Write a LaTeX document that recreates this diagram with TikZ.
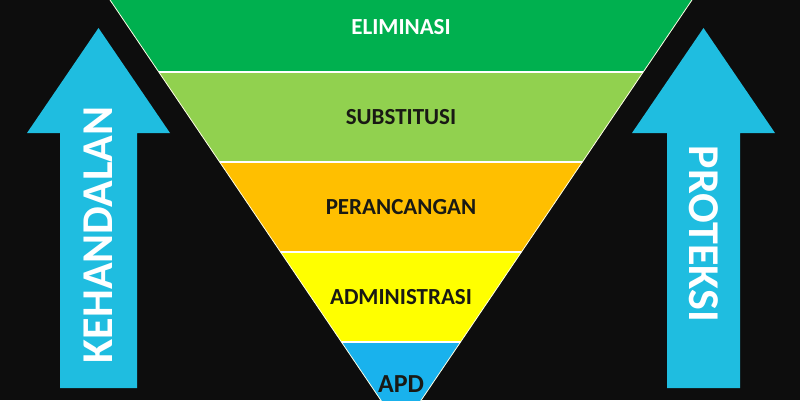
\documentclass[tikz,border=0pt]{standalone}
\usepackage{fontspec}
\setmainfont{Carlito}
\usepackage{tikz}
\definecolor{bgblack}{rgb}{0.05,0.05,0.05}
\definecolor{elimgreen}{rgb}{0,0.69,0.31}
\definecolor{subsgreen}{rgb}{0.57,0.82,0.31}
\definecolor{peranorange}{rgb}{1,0.75,0}
\definecolor{adminyellow}{rgb}{1,1,0}
\definecolor{apdblue}{rgb}{0.1,0.7,0.93}
\definecolor{arrowcyan}{rgb}{0.12,0.74,0.88}
\definecolor{labeldark}{rgb}{0.1,0.1,0.08}

\begin{document}
\begin{tikzpicture}[line cap=round,line join=round,x=1pt,y=1pt,
	band label/.style={font=\fontsize{23}{23}\selectfont\bfseries,text=labeldark,inner sep=0pt},
	arrow label/.style={font=\fontsize{44}{44}\selectfont\bfseries,text=white,inner sep=0pt},
	big arrow/.style={fill=arrowcyan}]
	\useasboundingbox (0,0) rectangle (800,400);
	\fill[bgblack] (0,0) rectangle (800,400);

	% inverted triangle
	\coordinate (tl) at (97.85,418);
	\coordinate (tr) at (704.15,418);
	\coordinate (apex) at (401,-30);
	\begin{scope}
		\clip (tl) -- (tr) -- (apex) -- cycle;
		\foreach \col/\ya/\yb in {elimgreen/328/420,subsgreen/238/328,peranorange/148/238,adminyellow/58/148,apdblue/-40/58}
			\fill[\col] (0,\ya) rectangle (800,\yb);
		\foreach \yb in {328,238,148,58}
			\draw[white,line width=1.2pt] (0,\yb) -- (800,\yb);
	\end{scope}
	\draw[white!90!yellow,line width=0.8pt] (tl) -- (apex) -- (tr);

	\node[band label,text=white] (elim) at (401,373) {ELIMINASI};
	\node[band label] (subs) at (401,283) {SUBSTITUSI};
	\node[band label] (peran) at (401,193) {PERANCANGAN};
	\node[band label] (admin) at (401,103) {ADMINISTRASI};
	\node[band label,font=\fontsize{26}{26}\selectfont\bfseries] (apd) at (401,16) {APD};

	% arrows
	\fill[big arrow] (98.5,372) -- (170,267) -- (137,267) -- (137,12) -- (60,12) -- (60,267) -- (27,267) -- cycle;
	\node[arrow label,rotate=90] (kehandalan) at (98.5,165) {KEHANDALAN};

	\fill[big arrow] (703.5,372) -- (775,267) -- (740,267) -- (740,12) -- (667,12) -- (667,267) -- (632,267) -- cycle;
	\node[arrow label,rotate=-90] (proteksi) at (703.5,166) {PROTEKSI};
\end{tikzpicture}
\end{document}
